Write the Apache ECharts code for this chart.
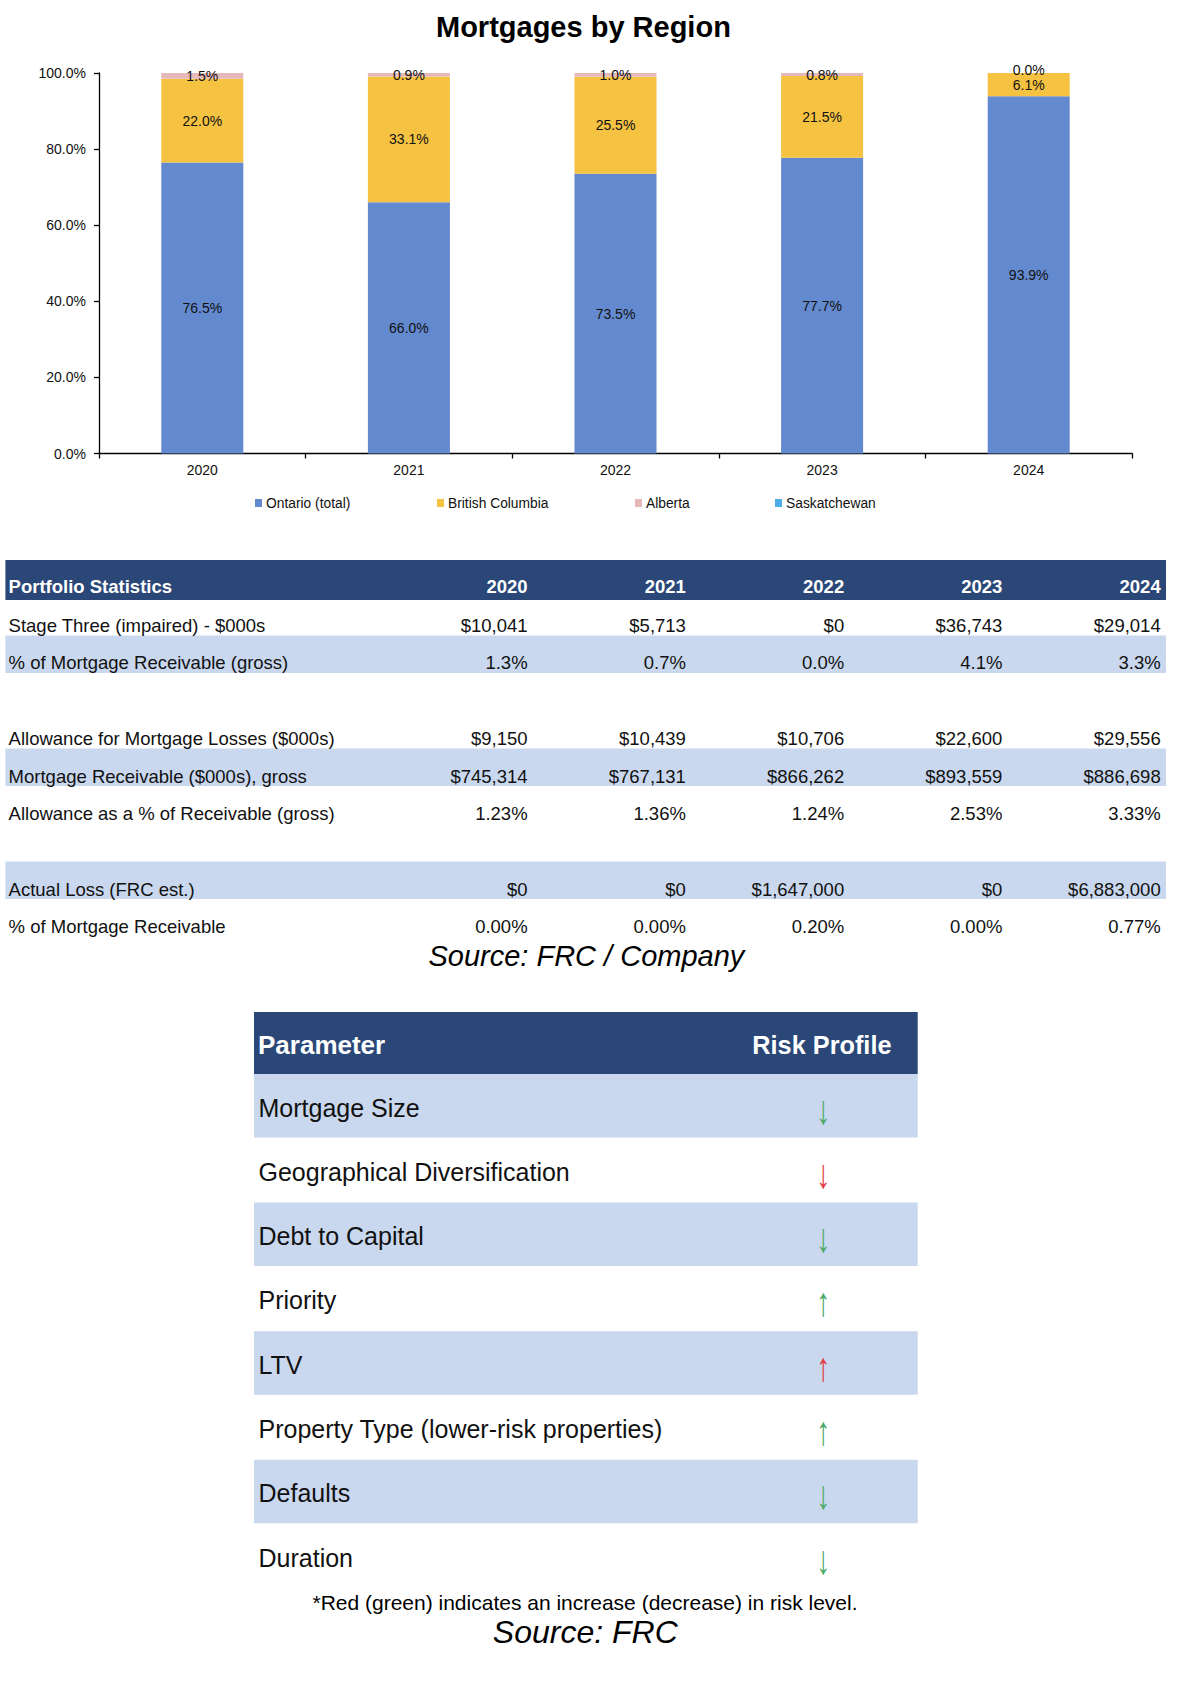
<!DOCTYPE html>
<html>
<head>
<meta charset="utf-8">
<script src="https://cdn.jsdelivr.net/npm/echarts@6/dist/echarts.min.js"></script>
<style>
  html, body { margin: 0; padding: 0; background: #ffffff; }
  #chart { width: 1190px; height: 1682px; }
</style>
</head>
<body>
<div id="chart"></div>
<script>
// ---------------- DATA ----------------
const years = ['2020', '2021', '2022', '2023', '2024'];
const regionNames = ['Ontario (total)', 'British Columbia', 'Alberta', 'Saskatchewan'];
const ontario = [76.5, 66.0, 73.5, 77.7, 93.9];
const britishColumbia = [22.0, 33.1, 25.5, 21.5, 6.1];
const alberta = [1.5, 0.9, 1.0, 0.8, 0.0];
const saskatchewan = [0, 0, 0, 0, 0];
const yTickValues = [0, 20, 40, 60, 80, 100];

const chartTitle = 'Mortgages by Region';
const statHeader = 'Portfolio Statistics';
const stageThree = [10041, 5713, 0, 36743, 29014];
const stageThreePct = [1.3, 0.7, 0.0, 4.1, 3.3];
const allowance = [9150, 10439, 10706, 22600, 29556];
const receivable = [745314, 767131, 866262, 893559, 886698];
const allowancePct = [1.23, 1.36, 1.24, 2.53, 3.33];
const actualLoss = [0, 0, 1647000, 0, 6883000];
const actualLossPct = [0.00, 0.00, 0.20, 0.00, 0.77];
const statLabels = [
  'Stage Three (impaired) - $000s',
  '% of Mortgage Receivable (gross)',
  '',
  'Allowance for Mortgage Losses ($000s)',
  'Mortgage Receivable ($000s), gross',
  'Allowance as a % of Receivable (gross)',
  '',
  'Actual Loss (FRC est.)',
  '% of Mortgage Receivable'
];
const source1 = 'Source: FRC / Company';

const riskHeader = ['Parameter', 'Risk Profile'];
const riskParams = ['Mortgage Size', 'Geographical Diversification', 'Debt to Capital', 'Priority',
  'LTV', 'Property Type (lower-risk properties)', 'Defaults', 'Duration'];
const riskDirection = ['down', 'down', 'down', 'up', 'up', 'up', 'down', 'down'];
const riskChange = ['lower', 'higher', 'lower', 'lower', 'higher', 'lower', 'lower', 'lower'];
const footnote = '*Red (green) indicates an increase (decrease) in risk level.';
const source2 = 'Source: FRC';

// ---------------- FORMATTERS ----------------
const money = v => '$' + v.toLocaleString('en-US');
const pct = (v, d) => v.toFixed(d) + '%';
const statValues = [
  stageThree.map(money),
  stageThreePct.map(v => pct(v, 1)),
  null,
  allowance.map(money),
  receivable.map(money),
  allowancePct.map(v => pct(v, 2)),
  null,
  actualLoss.map(money),
  actualLossPct.map(v => pct(v, 2))
];

// ---------------- STYLE / LAYOUT ----------------
const FONT = '"Liberation Sans", Arial, Helvetica, sans-serif';
const C = {
  ontario: '#6389CE', bc: '#F5C242', alberta: '#E5B9BA', sask: '#4BAEE8',
  navy: '#2A4778', band: '#C9D8EE', text: '#111111', green: '#4BA96A', red: '#E23B47'
};
const L = {
  legendLefts: [255, 437, 635, 775],
  t1: { x0: 5.4, x1: 1166, headTop: 560, headH: 40, headY: 586, slot: 37.7, textShift: 1.5, labelX: 8.6,
        colRight: [527.6, 685.9, 844.2, 1002.4, 1160.7], bandOff: 26, bandH: 37.5 },
  t2: { x0: 254, x1: 917.7, headTop: 1012, headH: 62, headY: 1045, rowTop: 1074, rowH: 64.3,
        bandH: 63.5, textX: 258.5, textOff: 33.5, arrowX: 823.3, arrowOff: 35, headRight: 891.5 }
};

function txt(x, y, text, o) {
  o = o || {};
  const align = o.align || 'left';
  const el = {
    type: 'text', x: x, y: y, silent: true,
    style: {
      text: text, fill: o.fill || C.text,
      fontSize: o.size || 18.5, fontFamily: o.family || FONT,
      fontWeight: o.weight || 'normal', fontStyle: o.style || 'normal',
      align: align, textAlign: align, verticalAlign: 'middle', textVerticalAlign: 'middle'
    }
  };
  if (o.scaleY) el.scaleY = o.scaleY;
  if (o.scaleX) el.scaleX = o.scaleX;
  return el;
}
function rect(x, y, w, h, fill) {
  return { type: 'rect', silent: true, shape: { x: x, y: y, width: w, height: h }, style: { fill: fill } };
}

const g = [];
// Table 1
const t1 = L.t1;
g.push(rect(t1.x0, t1.headTop, t1.x1 - t1.x0, t1.headH, C.navy));
g.push(txt(t1.labelX, t1.headY, statHeader, { fill: '#ffffff', weight: 'bold', size: 18.5 }));
years.forEach((yr, j) => g.push(txt(t1.colRight[j], t1.headY, yr, { fill: '#ffffff', weight: 'bold', align: 'right' })));
statLabels.forEach((lab, i) => {
  const slot = i + 1;
  const y = t1.headY + slot * t1.slot;
  if (slot % 3 === 2) g.push(rect(t1.x0, y - t1.bandOff, t1.x1 - t1.x0, t1.bandH, C.band));
});
statLabels.forEach((lab, i) => {
  const slot = i + 1;
  const y = t1.headY + slot * t1.slot + t1.textShift;
  if (lab) g.push(txt(t1.labelX, y, lab));
  if (statValues[i]) statValues[i].forEach((v, j) => g.push(txt(t1.colRight[j], y, v, { align: 'right' })));
});
g.push(txt(586.4, 956, source1, { size: 29, style: 'italic', align: 'center', fill: '#000' }));

// Table 2
const t2 = L.t2;
g.push(rect(t2.x0, t2.headTop, t2.x1 - t2.x0, t2.headH, C.navy));
g.push(txt(t2.textX - 0.5, t2.headY, riskHeader[0], { fill: '#fff', weight: 'bold', size: 26 }));
g.push(txt(t2.headRight, t2.headY, riskHeader[1], { fill: '#fff', weight: 'bold', size: 25.3, align: 'right' }));
riskParams.forEach((p, i) => {
  const top = t2.rowTop + i * t2.rowH;
  if (i % 2 === 0) g.push(rect(t2.x0, top, t2.x1 - t2.x0, t2.bandH, C.band));
  g.push(txt(t2.textX, top + t2.textOff, p, { size: 25 }));
  g.push(txt(t2.arrowX, top + t2.arrowOff, riskDirection[i] === 'up' ? '\u2191' : '\u2193',
    { size: 28, align: 'center', scaleY: 1.45, fill: riskChange[i] === 'higher' ? C.red : C.green }));
});
g.push(txt(585, 1602, footnote, { size: 21, align: 'center', fill: '#000' }));
g.push(txt(585.3, 1632, source2, { size: 32, style: 'italic', align: 'center', fill: '#000' }));

// ---------------- CHART ----------------
const labelCfg = {
  show: true, position: 'inside', color: C.text, fontSize: 14, fontFamily: FONT,
  formatter: p => p.value.toFixed(1) + '%'
};
const seriesData = [ontario, britishColumbia, alberta, saskatchewan];
const seriesColors = [C.ontario, C.bc, C.alberta, C.sask];
// zero-height segments: nudge their label up a little so it does not sit on the neighbour's label
const toItems = arr => arr.map(v => v === 0 ? { value: v, label: { offset: [0, -3] } } : v);

const option = {
  animation: false,
  backgroundColor: '#ffffff',
  textStyle: { fontFamily: FONT },
  title: {
    text: chartTitle, left: 436, top: 12, padding: 0,
    textStyle: { fontSize: 29, fontWeight: 'bold', color: '#000', fontFamily: FONT }
  },
  legend: regionNames.map((n, i) => ({
    data: [n], left: L.legendLefts[i], top: 496, padding: 0, itemWidth: 7, itemHeight: 8,
    icon: 'rect', selectedMode: false, itemGap: 0,
    textStyle: { fontSize: 13.8, color: C.text, fontFamily: FONT, padding: [0, 0, 0, -1] }
  })),
  grid: { left: 99, right: 58, top: 73, bottom: 1228.5, containLabel: false },
  xAxis: {
    type: 'category', data: years,
    axisLine: { lineStyle: { color: '#000', width: 1.3 } },
    axisTick: { show: true, length: 5, lineStyle: { color: '#000', width: 1.3 } },
    axisLabel: { margin: 9, fontSize: 14, color: C.text, fontFamily: FONT }
  },
  yAxis: {
    type: 'value', min: 0, max: 100, interval: 20,
    axisLine: { show: true, lineStyle: { color: '#000', width: 1.3 } },
    axisTick: { show: true, length: 5, lineStyle: { color: '#000', width: 1.3 } },
    splitLine: { show: false },
    axisLabel: {
      margin: 13, fontSize: 14, color: C.text, fontFamily: FONT,
      formatter: v => yTickValues.indexOf(v) >= 0 ? v.toFixed(1) + '%' : ''
    }
  },
  series: regionNames.map((n, i) => ({
    name: n, type: 'bar', stack: 'total', barWidth: 82,
    data: i === 2 ? toItems(seriesData[i]) : seriesData[i],
    itemStyle: { color: seriesColors[i] },
    label: i < 3 ? labelCfg : { show: false },
    emphasis: { disabled: true }
  })),
  graphic: { elements: g }
};

const chart = echarts.init(document.getElementById('chart'), null, { renderer: 'svg', width: 1190, height: 1682 });
chart.setOption(option);
</script>
</body>
</html>
